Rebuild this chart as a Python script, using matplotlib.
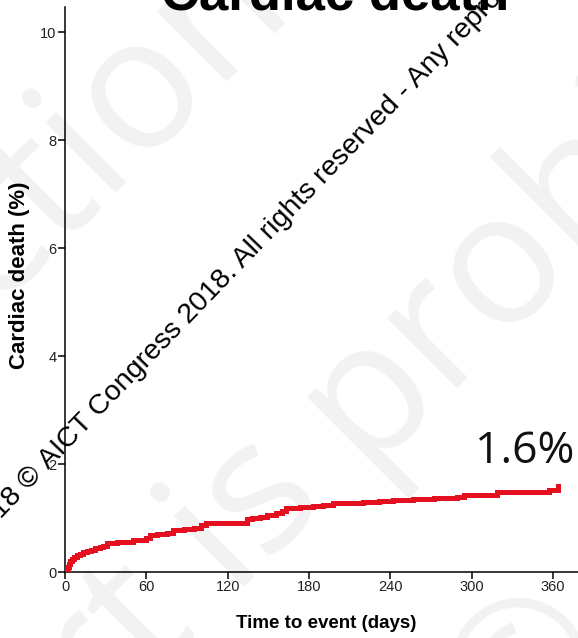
import matplotlib.pyplot as plt
import numpy as np

W, H = 578, 638

# cumulative incidence of cardiac death (%) by day of follow-up
days = [0, 1, 2, 3, 4, 5, 7, 9, 11, 13, 16, 19, 22, 26, 28, 31, 38, 45, 50,
        55, 60, 63, 68, 75, 80, 88, 95, 100, 104, 134, 138, 144, 149, 156,
        160, 163, 168, 173, 178, 183, 190, 198, 210, 220, 232, 242, 257, 272,
        289, 294, 316, 319, 340, 355, 357, 364]
death_pct = [0, 0.05, 0.10, 0.15, 0.20, 0.24, 0.28, 0.31, 0.34, 0.37, 0.39,
             0.41, 0.44, 0.46, 0.49, 0.54, 0.55, 0.56, 0.59, 0.60, 0.63, 0.69,
             0.70, 0.72, 0.78, 0.80, 0.81, 0.87, 0.91, 0.99, 1.00, 1.02, 1.05,
             1.09, 1.13, 1.18, 1.19, 1.21, 1.21, 1.22, 1.25, 1.27, 1.28, 1.30,
             1.31, 1.33, 1.36, 1.37, 1.39, 1.43, 1.43, 1.49, 1.49, 1.49, 1.52,
             1.60]

x_ticks = [0, 60, 120, 180, 240, 300, 360]
y_ticks = [0, 2, 4, 6, 8, 10]


def px(x, y):
    return x / W, 1 - y / H


fig = plt.figure(figsize=(W / 100, H / 100), dpi=100)
fig.patch.set_facecolor('white')

# faint background watermark
wm = dict(rotation=45, rotation_mode='anchor', color='#f2f2f2',
          family='Open Sans', fontsize=133, zorder=-5)
fig.text(*px(291, -1), 'Reproduction', ha='right', va='baseline', **wm)
fig.text(*px(362, 468), 'part is ', ha='right', va='baseline', **wm)
fig.text(*px(362, 468), 'prohibited', ha='left', va='baseline', **wm)
fig.text(*px(530, 672), '\u00a9', ha='center', va='center', **wm)

ax = fig.add_axes([65 / W, 1 - 572 / H, (W - 65) / W, 565 / H])
ax.set_facecolor('none')
ax.step(days, death_pct, where='post', color='#e5101f', lw=3.6,
        solid_joinstyle='miter', zorder=3)

ax.set_xlim(0, (W - 65) / (488 / 360))
ax.set_ylim(0, 565 / 54)
ax.set_xticks(x_ticks)
ax.set_yticks(y_ticks)
for s in ['top', 'right']:
    ax.spines[s].set_visible(False)
for s in ['left', 'bottom']:
    ax.spines[s].set_linewidth(1.1)
ax.tick_params(direction='out', length=5, width=1.1, pad=1,
               labelsize=10.5, labelcolor='#222222')
for lab in ax.get_xticklabels() + ax.get_yticklabels():
    lab.set_family(['Liberation Sans Narrow', 'Liberation Sans'])

ax.set_xlabel('Time to event (days)', fontsize=13.5, fontweight='bold',
              family='Liberation Sans')
ax.xaxis.set_label_coords((326 - 65) / 513, -(624 - 572) / 565)
ax.xaxis.label.set_va('center')
ax.set_ylabel('Cardiac death (%)', fontsize=16, fontweight='bold',
              family='Liberation Sans')
ax.yaxis.set_label_coords(-(65 - 20) / 513, (572 - 275) / 565)
ax.yaxis.label.set_va('center')

ax.text(339, 2.02, f'{death_pct[-1]:.1f}%', ha='center', va='baseline',
        fontsize=32, family='Open Sans', color='#111111')

fig.text(*px(335, 10), 'Cardiac death', ha='center', va='baseline',
         fontsize=38, fontweight='bold', family='Liberation Sans')

# diagonal copyright line
cr = dict(rotation=46, rotation_mode='anchor', va='baseline', fontsize=20.5,
          family='Liberation Sans', color='black', zorder=6)
fig.text(*px(43, 476), '2018 \u00a9', ha='right', **cr)
fig.text(*px(49, 470), 'AICT Congress 2018. All rights reserved - '
         'Any reproduction of this content is prohibited', ha='left', **cr)

fig.savefig('out.png', dpi=100)
